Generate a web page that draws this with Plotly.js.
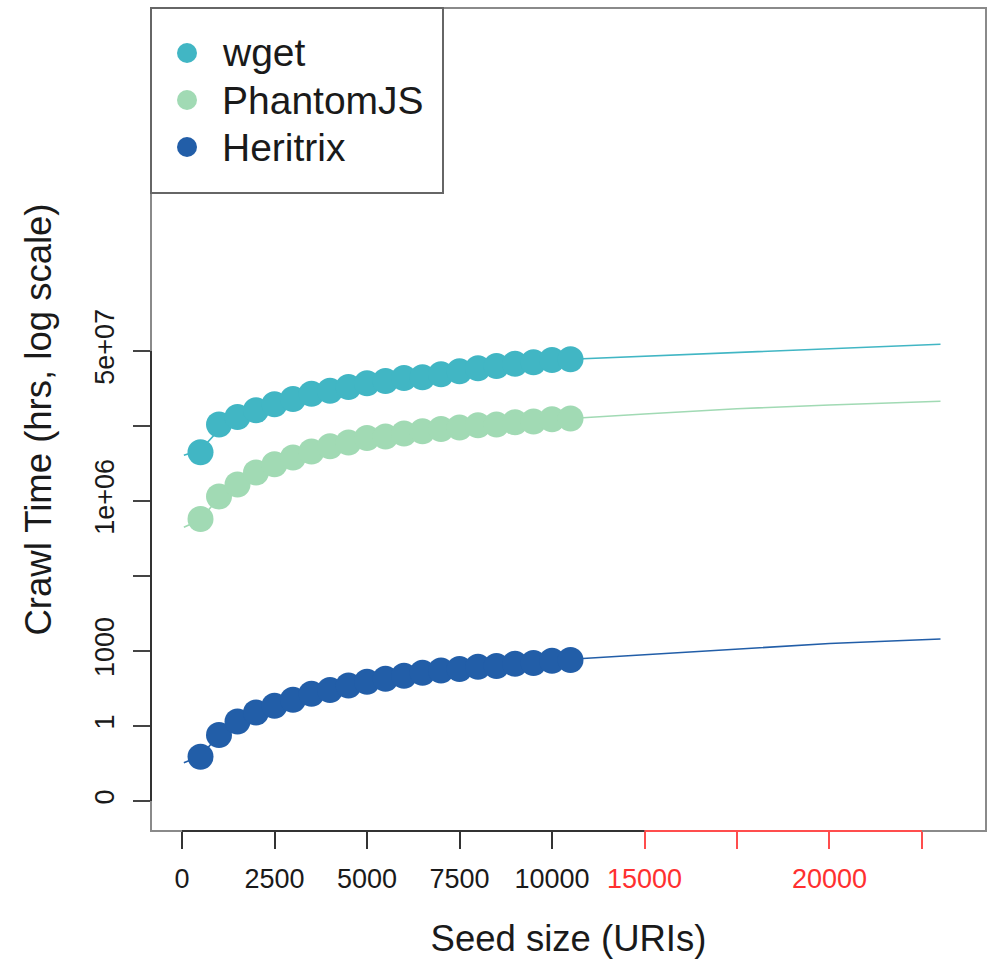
<!DOCTYPE html>
<html>
<head>
<meta charset="utf-8">
<script src="https://cdn.plot.ly/plotly-3.0.1.min.js"></script>
<style>html,body{margin:0;padding:0;background:#fff;}#chart{width:997px;height:959px;}</style>
</head>
<body>
<div id="chart"></div>
<script>
// ---- data (y in axis units: one unit per y tick) ----
const seedSize = [500,1000,1500,2000,2500,3000,3500,4000,4500,5000,5500,6000,6500,7000,7500,8000,8500,9000,9500,10000,10500];
const wget = [4.65,5.02,5.12,5.21,5.29,5.36,5.43,5.47,5.52,5.57,5.60,5.64,5.65,5.69,5.73,5.77,5.80,5.83,5.85,5.88,5.89];
const phantomjs = [3.76,4.06,4.22,4.38,4.49,4.58,4.66,4.73,4.78,4.84,4.86,4.90,4.93,4.96,4.98,5.01,5.02,5.05,5.06,5.09,5.10];
const heritrix = [0.59,0.88,1.06,1.18,1.27,1.35,1.43,1.48,1.54,1.59,1.63,1.67,1.71,1.74,1.76,1.79,1.80,1.83,1.84,1.87,1.88];

const fitX = [50,500,1000,2000,3000,4000,5000,6000,7000,8000,9000,10000,10500,12500,15000,17500,20500];
const wgetFit = [4.61,4.68,4.95,5.20,5.35,5.46,5.56,5.63,5.69,5.76,5.82,5.87,5.89,5.93,5.99,6.04,6.09];
const phantomjsFit = [3.65,3.75,4.05,4.36,4.56,4.71,4.82,4.90,4.96,5.01,5.05,5.09,5.10,5.16,5.23,5.28,5.33];
const heritrixFit = [0.51,0.60,0.88,1.18,1.35,1.48,1.59,1.67,1.74,1.79,1.83,1.87,1.89,1.95,2.03,2.10,2.16];

const seriesNames = ['wget','PhantomJS','Heritrix'];
const seriesColors = ['#41b6c4','#a1dab4','#225ea8'];

const yTickVals = [0,1,2,3,4,5,6];
const yTickText = ['0','1','1000','','1e+06','','5e+07'];
const xTickVals = [0,2500,5000,7500,10000,12500];
const xTickText = ['0','2500','5000','7500','10000',''];
const xRedTickVals = [12500,15000,17500,20000];
const xRedTickText = ['15000','','20000',''];

// ---- layout geometry (pixels) ----
const W = 997, H = 959;
const M = {l:151, r:11, t:8, b:128};
const PW = W - M.l - M.r, PH = H - M.t - M.b;
const px2paperX = p => (p - M.l) / PW;
const px2paperY = p => (H - M.b - p) / PH;

const FONT = '"Liberation Sans", Arial, Helvetica, sans-serif';
const TXT = '#1a1a1a';
const BOX = '#8a8a8a';

const pts = [wget, phantomjs, heritrix];
const fits = [wgetFit, phantomjsFit, heritrixFit];

const traces = [];
for (let i = 0; i < 3; i++) {
  traces.push({
    x: fitX, y: fits[i], type: 'scatter', mode: 'lines', xaxis: 'x', yaxis: 'y',
    line: {color: seriesColors[i], width: 1.6},
    name: seriesNames[i] + ' fit', showlegend: false, hoverinfo: 'skip'
  });
}
for (let i = 0; i < 3; i++) {
  traces.push({
    x: seedSize, y: pts[i], type: 'scatter', mode: 'markers', xaxis: 'x2', yaxis: 'y',
    marker: {color: seriesColors[i], size: 26, line: {width: 0}},
    name: seriesNames[i], showlegend: false
  });
}

const xRange = [-838, 21730];
const yRange = [-0.4, 10.573];

const shapes = [
  {type:'rect', xref:'paper', yref:'paper', x0:0, x1:1, y0:0, y1:1, line:{color:BOX, width:2}, fillcolor:'rgba(0,0,0,0)', layer:'above'},
  {type:'line', xref:'paper', yref:'y', x0:0, x1:0, y0:yTickVals[0], y1:yTickVals[yTickVals.length-1], line:{color:'#333', width:2}, layer:'above'},
  {type:'line', xref:'x', yref:'paper', x0:xTickVals[0], x1:xTickVals[xTickVals.length-1], y0:0, y1:0, line:{color:'#333', width:2}, layer:'above'},
  {type:'line', xref:'x', yref:'paper', x0:xRedTickVals[0], x1:xRedTickVals[xRedTickVals.length-1], y0:0, y1:0, line:{color:'#ff4d4d', width:2}, layer:'above'},
  {type:'rect', xref:'paper', yref:'paper', x0:px2paperX(151), x1:px2paperX(443), y0:px2paperY(193), y1:px2paperY(8), line:{color:'#666', width:2}, fillcolor:'#ffffff', layer:'above'}
];
const annotations = [];
const legendRows = [53, 100, 147];
for (let i = 0; i < 3; i++) {
  shapes.push({type:'circle', xref:'paper', yref:'paper', xsizemode:'pixel', ysizemode:'pixel',
    xanchor: px2paperX(187), yanchor: px2paperY(legendRows[i]), x0:-10, x1:10, y0:-10, y1:10,
    fillcolor: seriesColors[i], line:{width:0}, layer:'above'});
  annotations.push({xref:'paper', yref:'paper', x: px2paperX(220), y: px2paperY(legendRows[i]),
    xanchor:'left', yanchor:'middle', text: seriesNames[i], showarrow:false,
    font:{family:FONT, size:39, color:TXT}});
}

const layout = {
  width: W, height: H,
  margin: M,
  paper_bgcolor: '#ffffff', plot_bgcolor: '#ffffff',
  showlegend: false,
  font: {family: FONT, color: TXT},
  xaxis: {
    range: xRange, showgrid:false, zeroline:false, showline:false,
    tickmode:'array', tickvals: xTickVals, ticktext: xTickText,
    ticks:'outside', ticklen:17, tickwidth:2, tickcolor:'#333',
    ticklabelstandoff: 7,
    tickfont:{family:FONT, size:27, color:TXT},
    title:{text:'Seed size (URIs)', font:{family:FONT, size:36.5, color:TXT}, standoff: 40},
    automargin:false
  },
  xaxis2: {
    overlaying:'x', anchor:'y', side:'bottom',
    range: xRange, showgrid:false, zeroline:false, showline:false,
    tickmode:'array', tickvals: xRedTickVals, ticktext: xRedTickText,
    ticks:'outside', ticklen:17, tickwidth:2, tickcolor:'#ff4d4d',
    ticklabelstandoff: 7,
    tickfont:{family:FONT, size:27, color:'#ff3030'},
    automargin:false
  },
  yaxis: {
    range: yRange, showgrid:false, zeroline:false, showline:false,
    tickmode:'array', tickvals: yTickVals, ticktext: yTickText,
    ticks:'outside', ticklen:17, tickwidth:2, tickcolor:'#444',
    tickangle:-90, ticklabelstandoff: 8,
    tickfont:{family:FONT, size:27, color:TXT},
    title:{text:'Crawl Time (hrs, log scale)', font:{family:FONT, size:36.5, color:TXT}, standoff: 27},
    automargin:false
  },
  shapes: shapes,
  annotations: annotations
};

Plotly.newPlot('chart', traces, layout, {displayModeBar:false, staticPlot:true});
</script>
</body>
</html>
